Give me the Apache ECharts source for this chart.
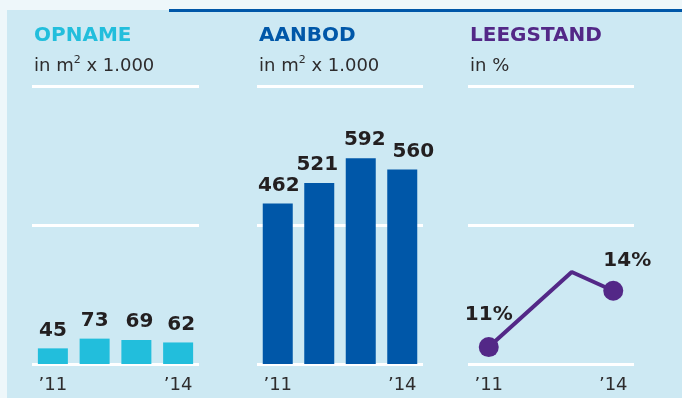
<!DOCTYPE html>
<html>
<head>
<meta charset="utf-8">
<script src="https://cdn.jsdelivr.net/npm/echarts@6/dist/echarts.min.js"></script>
<style>
  html, body { margin: 0; padding: 0; background: #eef7fa; }
  #chart { width: 682px; height: 398px; }
</style>
</head>
<body>
<div id="chart"></div>
<script>
// Years and the tick labels shown under the first and last year
const categories = ['2011', '2012', '2013', '2014'];
const tickLabels = ['\u201911', '', '', '\u201914'];

// Opname (take-up) and aanbod (supply), in m2 x 1.000
const opname = [45, 73, 69, 62];
const aanbod = [462, 521, 592, 560];

// Leegstand (vacancy), in %
const leegstand = [11, 13, 15, 14];

// Panel headings
const headings = ['OPNAME', 'AANBOD', 'LEEGSTAND'];
const units = ['in m{sup|2} x 1.000', 'in m{sup|2} x 1.000', 'in %'];

const C = {
  panel: '#cde9f3',
  outer: '#eef7fa',
  cyan: '#22bedc',
  blue: '#0057a8',
  purple: '#532887',
  ink: '#231f20',
  sub: '#2e2c2d'
};
const FONT = '"DejaVu Sans", sans-serif';

// Horizontal layout of the three panels
const panels = [
  { left: 32, width: 167 },
  { left: 257, width: 166 },
  { left: 468, width: 166 }
];
const gridTop = 86, gridHeight = 278;

// Small nudges for individual value labels
const opnameLabelShift = [0, 0, 3, 3];
const aanbodLabelShift = [1, -2, 4, 11];

const chart = echarts.init(document.getElementById('chart'), null, { renderer: 'canvas' });

const titleList = [];
panels.forEach((p, i) => {
  const colour = [C.cyan, C.blue, C.purple][i];
  titleList.push({
    text: headings[i], left: p.left + 2, top: 26, padding: 0,
    textStyle: { fontFamily: FONT, fontSize: 20, fontWeight: 'bold', color: colour }
  });
  titleList.push({
    text: units[i], left: p.left + 2, top: 55, padding: 0,
    textStyle: {
      fontFamily: FONT, fontSize: 18, fontWeight: 'normal', color: C.sub, lineHeight: 22,
      rich: { sup: { fontFamily: FONT, fontSize: 11, color: C.sub, verticalAlign: 'top', lineHeight: 22 } }
    }
  });
});

const gridList = panels.map(p => ({ left: p.left, width: p.width, top: gridTop, height: gridHeight }));

const xAxisList = panels.map((p, i) => ({
  type: 'category', gridIndex: i, data: categories,
  axisLine: { show: false }, axisTick: { show: false },
  axisLabel: {
    interval: 0, margin: 12, fontFamily: FONT, fontSize: 18, color: C.sub,
    formatter: (v, idx) => tickLabels[idx]
  }
}));

// White reference rules: the 0 / 400 / 800 lines of each panel
const yAxisList = panels.map((p, i) => ({
  type: 'value', gridIndex: i, min: 0, max: 800, interval: 400,
  axisLine: { show: false }, axisTick: { show: false }, axisLabel: { show: false },
  splitLine: { lineStyle: { color: '#ffffff', width: 3 } }
}));
// Percentage scale for the vacancy line
yAxisList.push({
  type: 'value', gridIndex: 2, min: 10.1, max: 24.9, show: false,
  splitLine: { show: false }
});

const barLabel = {
  show: true, position: 'top', distance: 8,
  fontFamily: FONT, fontSize: 20, fontWeight: 'bold', color: C.ink
};

const series = [
  {
    type: 'bar', xAxisIndex: 0, yAxisIndex: 0, barWidth: 30,
    itemStyle: { color: C.cyan },
    data: opname.map((v, i) => ({ value: v, label: { offset: [opnameLabelShift[i], 0] } })),
    label: barLabel
  },
  {
    type: 'bar', xAxisIndex: 1, yAxisIndex: 1, barWidth: 30,
    itemStyle: { color: C.blue },
    data: aanbod.map((v, i) => ({ value: v, label: { offset: [aanbodLabelShift[i], 0] } })),
    label: barLabel
  },
  {
    type: 'line', xAxisIndex: 2, yAxisIndex: 3,
    lineStyle: { color: C.purple, width: 4 },
    itemStyle: { color: C.purple },
    symbol: 'circle', symbolSize: 20,
    data: leegstand.map((v, i) => {
      const last = leegstand.length - 1;
      if (i === 0) {
        return { value: v, label: { show: true, position: 'top', distance: 12 } };
      }
      if (i === last) {
        return { value: v, label: { show: true, position: 'top', distance: 10, offset: [14, 0] } };
      }
      return { value: v, symbolSize: 0 };
    }),
    label: {
      show: false, formatter: '{c}%',
      fontFamily: FONT, fontSize: 20, fontWeight: 'bold', color: C.ink
    }
  }
];

chart.setOption({
  backgroundColor: C.outer,
  animation: false,
  graphic: [
    { type: 'rect', z: -10, silent: true, shape: { x: 7, y: 10, width: 700, height: 400 }, style: { fill: C.panel } },
    { type: 'rect', z: -9, silent: true, shape: { x: 169, y: 9, width: 520, height: 3 }, style: { fill: C.blue } }
  ],
  title: titleList,
  grid: gridList,
  xAxis: xAxisList,
  yAxis: yAxisList,
  series: series
});
</script>
</body>
</html>
